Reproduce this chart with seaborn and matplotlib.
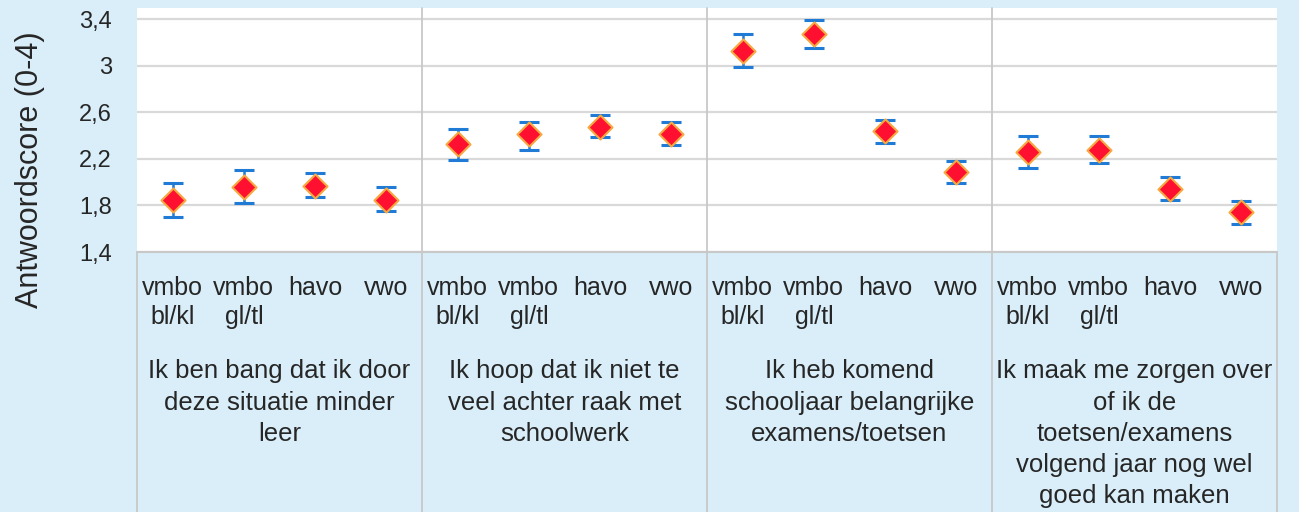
import numpy as np
import pandas as pd
import seaborn as sns
import matplotlib
matplotlib.use('Agg')
import matplotlib.pyplot as plt
from matplotlib.ticker import FixedLocator, FuncFormatter

# data
levels = ['vmbo\nbl/kl', 'vmbo\ngl/tl', 'havo', 'vwo']
statements = ['Ik ben bang dat ik door\ndeze situatie minder\nleer',
              'Ik hoop dat ik niet te\nveel achter raak met\nschoolwerk',
              'Ik heb komend\nschooljaar belangrijke\nexamens/toetsen',
              'Ik maak me zorgen over\nof ik de\ntoetsen/examens\nvolgend jaar nog wel\ngoed kan maken']
score = [1.85, 1.96, 1.97, 1.85,
         2.33, 2.41, 2.47, 2.41,
         3.13, 3.27, 2.44, 2.09,
         2.26, 2.28, 1.94, 1.74]
upper = [1.99, 2.10, 2.08, 1.96,
         2.46, 2.52, 2.58, 2.52,
         3.27, 3.39, 2.53, 2.18,
         2.40, 2.40, 2.04, 1.84]
lower = [1.70, 1.82, 1.87, 1.75,
         2.19, 2.28, 2.39, 2.32,
         2.99, 3.15, 2.34, 1.99,
         2.12, 2.16, 1.85, 1.64]

bg = '#D9EEF9'
txt = '#262626'
sns.set_style('white')
plt.rcParams['font.family'] = ['Liberation Sans', 'DejaVu Sans']

df = pd.DataFrame({'pos': np.arange(len(score)), 'score': score,
                   'upper': upper, 'lower': lower})

fig = plt.figure(figsize=(12.99, 5.12), dpi=100, facecolor=bg)
ax = fig.add_axes([137 / 1299, 1 - 252 / 512, 1140 / 1299, 244 / 512])
ax.set_facecolor('white')

ax.errorbar(df['pos'], df['score'],
            yerr=[df['score'] - df['lower'], df['upper'] - df['score']],
            fmt='none', ecolor='#1F7BD6', elinewidth=1.8, capsize=7, capthick=2.2,
            zorder=3)
sns.scatterplot(data=df, x='pos', y='score', marker='D', s=150, color='#FF1030',
                edgecolor='#F8A840', linewidth=1.5, zorder=4, ax=ax, legend=False)

ax.set_xlim(-0.5, 15.5)
ax.set_ylim(1.4, 3.495)
ax.yaxis.set_major_locator(FixedLocator([1.4, 1.8, 2.2, 2.6, 3.0, 3.4]))
ax.yaxis.set_major_formatter(FuncFormatter(lambda v, p: f'{v:g}'.replace('.', ',')))
ax.grid(axis='y', color='#D9D9D9', lw=1.6)
ax.set_axisbelow(True)
for s in ax.spines.values():
    s.set_visible(False)

ax.set_xticks(df['pos'])
ax.set_xticklabels(levels * 4, fontsize=18, color=txt, linespacing=1.3)
ax.tick_params(axis='x', length=0, pad=17)
ax.tick_params(axis='y', length=0, pad=18, labelsize=17, labelcolor=txt)
ax.set_xlabel('')
ax.set_ylabel('')
fig.text(30 / 1299, 1 - 170 / 512, 'Antwoordscore (0-4)', rotation=90,
         ha='center', va='center', fontsize=22, color=txt)

# bottom label area border and group separators
trans = ax.get_xaxis_transform()
ax.plot([-0.5, 15.5], [0, 0], transform=trans, color='#C8C8C8', lw=1.5,
        clip_on=False, zorder=2)
for xv in [-0.5, 3.5, 7.5, 11.5, 15.5]:
    top = 0 if xv in (-0.5, 15.5) else 1
    ax.plot([xv, xv], [-1.1, top], transform=trans, color='#C8C8C8', lw=1.3,
            clip_on=False, zorder=2)

for i, st in enumerate(statements):
    ax.text(4 * i + 1.5, -0.44, st, transform=trans, ha='center', va='top',
            fontsize=18.5, color=txt, linespacing=1.38)

fig.savefig('out.png', dpi=100, facecolor=bg)
